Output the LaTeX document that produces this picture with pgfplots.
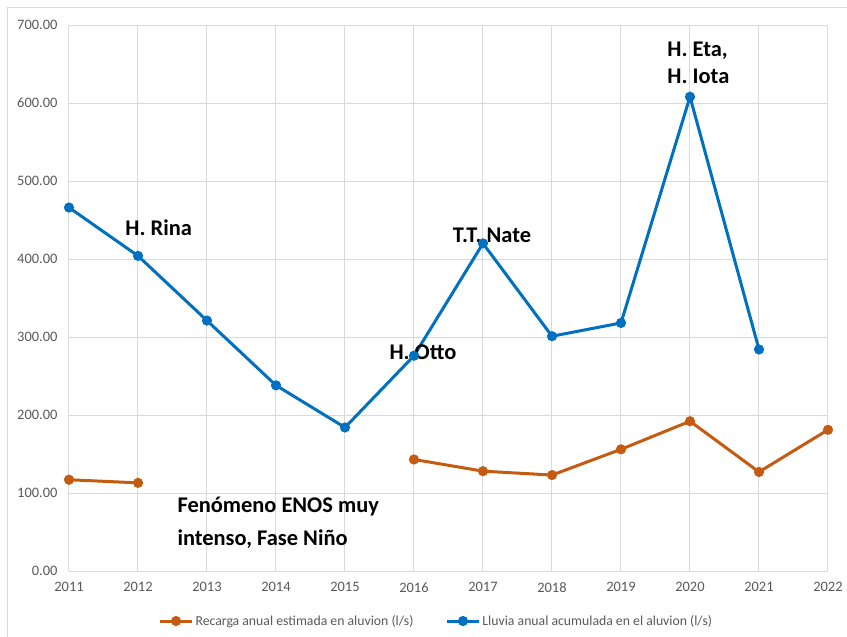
\documentclass[border=0pt]{standalone}
\usepackage{pgfplots}
\pgfplotsset{compat=1.18}
\usepackage{fontspec}
\setmainfont{Carlito}
\definecolor{cblue}{HTML}{0070C0}
\definecolor{corange}{HTML}{C55A11}
\definecolor{cgrid}{HTML}{D9D9D9}
\definecolor{ctick}{HTML}{595959}
\begin{document}
\begin{tikzpicture}
\path[use as bounding box] (-69bp,-66bp) rectangle (778bp,571bp);
\draw[cgrid, line width=1bp] (-61bp,-66bp) -- (-61bp,563bp) -- (778bp,563bp);
\begin{axis}[
  scale only axis,
  width=759bp, height=546bp,
  xmin=2011, xmax=2022, ymin=0, ymax=700,
  xtick={2011,...,2022},
  ytick={0,100,...,700},
  grid=major,
  major grid style={cgrid, line width=1bp},
  axis line style={cgrid, line width=1bp},
  axis x line*=bottom, axis y line*=left,
  tick style={draw=none},
  ticklabel style={font=\fontsize{14.5}{16}\selectfont, text=ctick},
  /pgf/number format/assume math mode=true,
  xticklabel style={/pgf/number format/1000 sep={}, yshift=-8bp},
  yticklabel style={xshift=-8bp, /pgf/number format/.cd, fixed, fixed zerofill, precision=2, 1000 sep={}},
  unbounded coords=jump,
  legend columns=2,
  legend style={at={(0.484,-0.0916)}, anchor=center, draw=none, fill=none,
    font=\fontsize{13.8}{16}\selectfont, text=ctick,
    /tikz/every even column/.append style={column sep=30bp}},
  legend image code/.code={\draw[mark repeat=2,mark phase=2] plot coordinates {(0bp,0bp)(16bp,0bp)(32bp,0bp)};},
  clip=false,
]
\addplot[corange, line width=3bp, mark=*, mark size=3.5bp, mark options={solid}] coordinates {
  (2011,117) (2012,113) (2013,nan) (2016,143) (2017,128) (2018,123) (2019,156) (2020,192) (2021,127) (2022,181)};
\addlegendentry{Recarga anual estimada en aluvion (l/s)}
\addplot[cblue, line width=3bp, mark=*, mark size=3.5bp, mark options={solid}] coordinates {
  (2011,466) (2012,404) (2013,321) (2014,238) (2015,184) (2016,276) (2017,420) (2018,301) (2019,318) (2020,608) (2021,284)};
\addlegendentry{Lluvia anual acumulada en el aluvion (l/s)}
\node[font=\fontsize{22.5}{27}\selectfont\bfseries] at (axis cs:2012.30,440) {H. Rina};
\node[font=\fontsize{22.5}{27}\selectfont\bfseries] at (axis cs:2017.13,431) {T.T. Nate};
\node[font=\fontsize{22.5}{27}\selectfont\bfseries] at (axis cs:2016.13,280) {H. Otto};
\node[font=\fontsize{22.5}{27}\selectfont\bfseries, align=left, anchor=west, inner sep=0pt] at (axis cs:2019.67,651) {H. Eta,\\H. Iota};
\node[font=\fontsize{22.5}{33}\selectfont\bfseries, align=left, anchor=west, inner sep=0pt] at (axis cs:2012.57,62) {Fenómeno ENOS muy\\intenso, Fase Niño};
\end{axis}
\end{tikzpicture}
\end{document}
